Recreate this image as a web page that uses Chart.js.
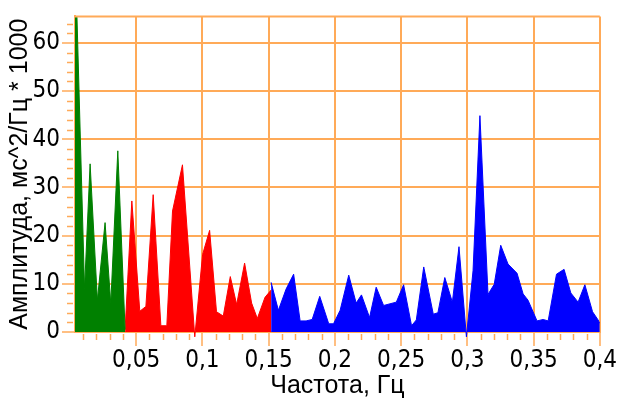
<!DOCTYPE html>
<html>
<head>
<meta charset="utf-8">
<script src="https://cdn.jsdelivr.net/npm/chart.js@4.4.1/dist/chart.umd.min.js"></script>
<style>
html,body{margin:0;padding:0;background:#fff;}
#wrap{width:617px;height:401px;}
</style>
</head>
<body>
<div id="wrap"><canvas id="c" width="617" height="401"></canvas></div>
<script>
// ---- data ----
const vlfFreq = [0.0039, 0.0111, 0.0153, 0.0208, 0.0266, 0.0309, 0.0362, 0.0417];
const vlfAmp  = [80, 9, 34.9, 6.6, 22.7, 5.9, 37.6, 0.5];

const lfFreq = [0.0417, 0.0468, 0.0528, 0.0574, 0.0629, 0.0687, 0.0732, 0.0775, 0.0850, 0.0943,
                0.1002, 0.1055, 0.1107, 0.1158, 0.1211, 0.1259, 0.1319, 0.1372, 0.1415, 0.1473, 0.1519];
const lfAmp  = [0.5, 27.2, 4.3, 5.3, 28.5, 1.3, 1.3, 25.1, 34.7, -1,
                16.1, 21.1, 4.2, 3.3, 11.5, 5.7, 14.3, 6.0, 2.8, 7.2, 8.7];

const hfFreq = [0.1519, 0.1574, 0.1632, 0.1689, 0.1738, 0.1783, 0.1829, 0.1886, 0.1954, 0.1990,
                0.2040, 0.2105, 0.2161, 0.2201, 0.2262, 0.2312, 0.2368, 0.2464, 0.2519, 0.2579,
                0.2615, 0.2671, 0.2743, 0.2778, 0.2830, 0.2887, 0.2937, 0.2993, 0.3043, 0.3095,
                0.3156, 0.3203, 0.3252, 0.3307, 0.3375, 0.3421, 0.3458, 0.3526, 0.3572, 0.3610,
                0.3673, 0.3730, 0.3781, 0.3836, 0.3887, 0.3945, 0.3987, 0.4000];
const hfAmp  = [10.3, 4.5, 8.9, 12.0, 2.3, 2.3, 2.6, 7.4, 1.7, 1.7,
                4.5, 11.8, 6.0, 7.7, 3.0, 9.3, 5.5, 6.2, 9.8, 1.3,
                2.5, 13.5, 3.7, 4.0, 11.3, 6.2, 17.7, -1, 12.7, 44.9,
                7.8, 9.9, 18.0, 14.1, 12.2, 7.9, 6.6, 2.3, 2.6, 2.3,
                12.0, 13.0, 8.1, 6.2, 9.8, 4.2, 2.5, 1.8];

const xTickValues = [0.05, 0.1, 0.15, 0.2, 0.25, 0.3, 0.35, 0.4];
const xTickLabels = ['0,05', '0,1', '0,15', '0,2', '0,25', '0,3', '0,35', '0,4'];
const yTickValues = [0, 10, 20, 30, 40, 50, 60];
const yTickLabels = ['0', '10', '20', '30', '40', '50', '60'];
const xMinorStep = 0.01;
const yMinorStep = 2;

const xTitle = 'Частота, Гц';
const yTitle = 'Амплитуда, мс^2/Гц * 1000';

// ---- styles ----
const ORANGE = 'rgb(255,170,88)';
const tickFont = {family: "'Liberation Sans Narrow','Arial Narrow','DejaVu Sans Condensed',sans-serif", size: 24};
const titleFont = {family: "'Liberation Sans',Arial,sans-serif", size: 25};

function pts(fx, fy) { return fx.map((f, i) => ({x: f, y: fy[i]})); }
function ds(fx, fy, col) {
  return {
    data: pts(fx, fy), fill: 'origin', backgroundColor: col, borderColor: col,
    borderWidth: 1, pointRadius: 0, tension: 0,
    clip: {left: 0, top: 0, right: 0, bottom: 6}
  };
}

const framePlugin = {
  id: 'frame',
  afterDraw(chart) {
    const {ctx, chartArea: a, scales: {x, y}} = chart;
    ctx.save();
    ctx.strokeStyle = ORANGE;
    ctx.lineWidth = 2;
    ctx.beginPath();
    ctx.moveTo(a.left, a.top); ctx.lineTo(a.right, a.top);
    ctx.stroke();
    ctx.lineWidth = 1.5;
    ctx.beginPath();
    // minor ticks on y
    for (let v = y.min; v <= y.max; v += yMinorStep) {
      const vv = Math.round(v * 1000) / 1000;
      if (yTickValues.includes(vv)) continue;
      const py = Math.round(y.getPixelForValue(vv)) + 0.5;
      ctx.moveTo(a.left - 8, py); ctx.lineTo(a.left - 2, py);
    }
    // minor ticks on x
    for (let k = 1; k * xMinorStep <= x.max + 1e-9; k++) {
      const vv = Math.round(k * xMinorStep * 1000) / 1000;
      if (vv < x.min) continue;
      if (xTickValues.some(t => Math.abs(t - vv) < 1e-9)) continue;
      const px = Math.round(x.getPixelForValue(vv)) + 0.5;
      ctx.moveTo(px, a.bottom + 2); ctx.lineTo(px, a.bottom + 8);
    }
    ctx.stroke();
    ctx.restore();
  }
};

new Chart(document.getElementById('c'), {
  type: 'line',
  data: {
    datasets: [
      ds(vlfFreq, vlfAmp, '#008000'),
      ds(lfFreq, lfAmp, '#ff0000'),
      ds(hfFreq, hfAmp, '#0000ff')
    ]
  },
  options: {
    responsive: false,
    animation: false,
    devicePixelRatio: 1,
    layout: {padding: {left: 0, top: 14, right: 17, bottom: 0}},
    plugins: {legend: {display: false}, tooltip: {enabled: false}},
    scales: {
      x: {
        type: 'linear', min: 0.0039, max: 0.4,
        afterBuildTicks: s => { s.ticks = xTickValues.map(v => ({value: v})); },
        afterFit: s => { s.height = 69; },
        ticks: {
          callback: v => xTickLabels[xTickValues.findIndex(t => Math.abs(t - v) < 1e-9)],
          font: tickFont, color: '#000', maxRotation: 0, autoSkip: false, padding: 0
        },
        grid: {color: ORANGE, lineWidth: 2, tickLength: 14, tickColor: ORANGE, tickWidth: 1.5},
        border: {color: ORANGE, width: 2},
        title: {display: true, text: xTitle, font: titleFont, color: '#000', padding: {top: 0, bottom: 0}}
      },
      y: {
        type: 'linear', min: 0, max: 65.5,
        afterBuildTicks: s => { s.ticks = yTickValues.map(v => ({value: v})); },
        afterFit: s => { s.width = 75; },
        ticks: {
          callback: v => yTickLabels[yTickValues.indexOf(v)],
          font: tickFont, color: '#000', padding: 2
        },
        grid: {color: ORANGE, lineWidth: 2, tickLength: 13, tickColor: ORANGE, tickWidth: 1.5},
        border: {color: ORANGE, width: 2},
        title: {display: true, text: yTitle, font: titleFont, color: '#000', padding: {top: 5, bottom: 0}}
      }
    }
  },
  plugins: [framePlugin]
});
</script>
</body>
</html>
